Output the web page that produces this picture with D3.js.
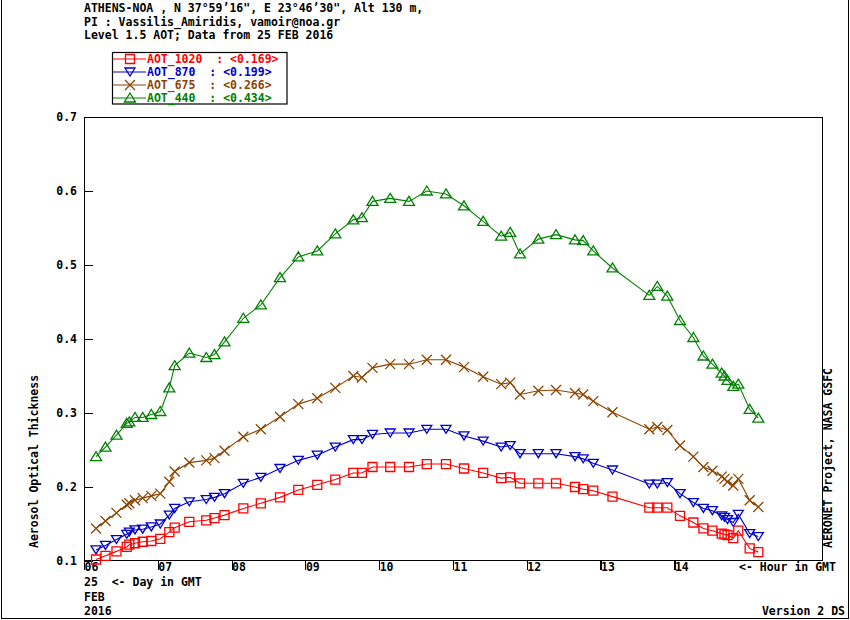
<!DOCTYPE html>
<html>
<head>
<meta charset="utf-8">
<script src="https://cdn.jsdelivr.net/npm/d3@7"></script>
<style>
  html, body { margin: 0; padding: 0; background: #fff; }
  svg text { font-family: "DejaVu Sans Mono", "Liberation Mono", monospace; font-weight: bold; font-size: 11.5px; white-space: pre; }
</style>
</head>
<body>
<svg id="chart" width="850" height="620"></svg>
<script>
// ---- data ----
const titleLines = [
  "ATHENS-NOA , N 37°59’16\", E 23°46’30\", Alt 130 m,",
  "PI : Vassilis_Amiridis, vamoir@noa.gr",
  "Level 1.5 AOT; Data from 25 FEB 2016"
];
const hours = [6.163, 6.291, 6.440, 6.579, 6.614, 6.691, 6.795, 6.912, 7.034, 7.156,
  7.229, 7.427, 7.657, 7.768, 7.904, 8.159, 8.396, 8.656, 8.904, 9.161,
  9.405, 9.649, 9.766, 9.909, 10.149, 10.404, 10.645, 10.905, 11.149, 11.409,
  11.653, 11.775, 11.908, 12.156, 12.396, 12.653, 12.764, 12.901, 13.161, 13.660,
  13.768, 13.904, 14.076, 14.257, 14.393, 14.515, 14.641, 14.679, 14.720, 14.798,
  14.866, 15.020, 15.137];
const aot1020 = [0.102, 0.107, 0.113, 0.119, 0.122, 0.124, 0.126, 0.127, 0.130, 0.139,
  0.145, 0.153, 0.155, 0.158, 0.162, 0.171, 0.178, 0.186, 0.196, 0.203,
  0.210, 0.219, 0.219, 0.227, 0.227, 0.227, 0.231, 0.231, 0.225, 0.219,
  0.212, 0.213, 0.205, 0.205, 0.205, 0.200, 0.197, 0.195, 0.187, 0.172,
  0.172, 0.172, 0.161, 0.152, 0.144, 0.141, 0.137, 0.136, 0.135, 0.131,
  0.141, 0.117, 0.112];
const aot870 = [0.115, 0.121, 0.129, 0.136, 0.139, 0.142, 0.143, 0.146, 0.150, 0.162,
  0.171, 0.180, 0.183, 0.186, 0.191, 0.205, 0.213, 0.225, 0.236, 0.243,
  0.254, 0.264, 0.264, 0.271, 0.273, 0.273, 0.278, 0.278, 0.269, 0.262,
  0.254, 0.256, 0.245, 0.245, 0.245, 0.241, 0.238, 0.232, 0.223, 0.204,
  0.204, 0.206, 0.191, 0.179, 0.171, 0.168, 0.161, 0.159, 0.156, 0.152,
  0.163, 0.137, 0.133];
const aot675 = [0.144, 0.154, 0.165, 0.176, 0.178, 0.182, 0.185, 0.188, 0.191, 0.207,
  0.221, 0.233, 0.236, 0.239, 0.249, 0.268, 0.278, 0.295, 0.312, 0.320,
  0.334, 0.350, 0.348, 0.361, 0.366, 0.366, 0.372, 0.372, 0.362, 0.349,
  0.339, 0.341, 0.325, 0.330, 0.331, 0.327, 0.325, 0.316, 0.301, 0.278,
  0.281, 0.277, 0.256, 0.241, 0.227, 0.222, 0.214, 0.211, 0.207, 0.202,
  0.211, 0.182, 0.173];
const aot440 = [0.241, 0.254, 0.270, 0.286, 0.288, 0.294, 0.294, 0.298, 0.302, 0.334,
  0.364, 0.381, 0.375, 0.379, 0.396, 0.428, 0.446, 0.483, 0.511, 0.519,
  0.542, 0.561, 0.564, 0.586, 0.590, 0.586, 0.600, 0.596, 0.580, 0.559,
  0.539, 0.544, 0.515, 0.535, 0.541, 0.534, 0.533, 0.519, 0.496, 0.459,
  0.471, 0.458, 0.425, 0.402, 0.377, 0.366, 0.354, 0.350, 0.344, 0.336,
  0.339, 0.305, 0.293];
const seriesNames = ["AOT_1020", "AOT_870", "AOT_675", "AOT_440"];
const seriesMeans = ["0.169", "0.199", "0.266", "0.434"];
const seriesColors = ["#ff0000", "#0000cc", "#8b4500", "#008000"];
const seriesMarkers = ["square", "triangleDown", "cross", "triangleUp"];
const yTicks = [0.1, 0.2, 0.3, 0.4, 0.5, 0.6, 0.7];
const xTicks = [6, 7, 8, 9, 10, 11, 12, 13, 14];
const xTickLabels = ["06", "07", "08", "09", "10", "11", "12", "13", "14"];
const dateLines = ["25  <- Day in GMT", "FEB", "2016"];

// ---- layout ----
const svg = d3.select("#chart");
const x = d3.scaleLinear().domain([6, 16]).range([84, 822]);
const y = d3.scaleLinear().domain([0.1, 0.7]).range([561, 117]);

// outer frame
svg.append("rect").attr("x", 1.5).attr("y", -5).attr("width", 847).attr("height", 623.5)
  .attr("fill", "none").attr("stroke", "#000").attr("stroke-width", 1);

// titles
svg.selectAll("text.title").data(titleLines).enter().append("text")
  .attr("class", "title").attr("x", 84).attr("y", (d, i) => 12 + i * 13.5)
  .attr("fill", "#000").text(d => d);

// plot frame
svg.append("rect").attr("x", 84.5).attr("y", 117.5).attr("width", 738).attr("height", 443)
  .attr("fill", "none").attr("stroke", "#000").attr("stroke-width", 1.2)
  .attr("shape-rendering", "crispEdges");

// y axis: ticks inward
const yAxis = d3.axisRight(y).tickValues(yTicks).tickSize(8).tickFormat("");
const gy = svg.append("g").attr("transform", "translate(84.5,0)").call(yAxis);
gy.select(".domain").remove();
gy.selectAll(".tick line").attr("stroke", "#000").attr("stroke-width", 1.2).attr("shape-rendering", "crispEdges");
svg.selectAll("text.ylab").data(yTicks).enter().append("text")
  .attr("class", "ylab").attr("x", 77).attr("y", d => y(d) + 4)
  .attr("text-anchor", "end").text(d => d3.format(".1f")(d));

// x axis: ticks outward
const xAxis = d3.axisBottom(x).tickValues(xTicks).tickSize(9).tickFormat("");
const gx = svg.append("g").attr("transform", "translate(0,560.5)").call(xAxis);
gx.select(".domain").remove();
gx.selectAll(".tick line").attr("stroke", "#000").attr("stroke-width", 1.2).attr("shape-rendering", "crispEdges");
svg.selectAll("text.xlab").data(xTicks).enter().append("text")
  .attr("class", "xlab").attr("x", d => x(d) + 0.5).attr("y", 571)
  .text((d, i) => xTickLabels[i]);

svg.append("text").attr("x", 739).attr("y", 571).text("<- Hour in GMT");
svg.selectAll("text.date").data(dateLines).enter().append("text")
  .attr("class", "date").attr("x", 84).attr("y", (d, i) => 586 + i * 14.7).text(d => d);
svg.append("text").attr("x", 845).attr("y", 615).attr("text-anchor", "end").text("Version 2 DS");

// axis titles
svg.append("text").attr("transform", "translate(38,548) rotate(-90)").text("Aerosol Optical Thickness");
svg.append("text").attr("transform", "translate(832,548) rotate(-90)").text("AERONET Project, NASA GSFC");

// markers
function markerPath(type, cx, cy) {
  const p = d3.path();
  if (type === "square") {
    p.rect(cx - 4.5, cy - 4.5, 9, 9);
  } else if (type === "triangleDown") {
    p.moveTo(cx - 5, cy - 4); p.lineTo(cx + 5, cy - 4); p.lineTo(cx, cy + 4); p.closePath();
  } else if (type === "triangleUp") {
    p.moveTo(cx, cy - 5); p.lineTo(cx + 5.5, cy + 4); p.lineTo(cx - 5.5, cy + 4); p.closePath();
  } else if (type === "cross") {
    p.moveTo(cx - 5, cy - 5); p.lineTo(cx + 5, cy + 5);
    p.moveTo(cx + 5, cy - 5); p.lineTo(cx - 5, cy + 5);
  }
  return p.toString();
}

const allSeries = [aot1020, aot870, aot675, aot440];
const line = d3.line().x(d => x(d[0])).y(d => y(d[1]));
const drawOrder = [3, 2, 1, 0];
drawOrder.forEach(si => {
  const pts = hours.map((h, i) => [h, allSeries[si][i]]);
  const g = svg.append("g");
  g.append("path").attr("d", line(pts)).attr("fill", "none")
    .attr("stroke", seriesColors[si]).attr("stroke-width", 1.1);
  g.selectAll("path.m").data(pts).enter().append("path").attr("class", "m")
    .attr("d", d => markerPath(seriesMarkers[si], x(d[0]), y(d[1])))
    .attr("fill", "none").attr("stroke", seriesColors[si]).attr("stroke-width", 1.3);
});

// legend
const lg = svg.append("g");
lg.append("rect").attr("x", 112.5).attr("y", 52.5).attr("width", 174.5).attr("height", 51.5)
  .attr("fill", "#fff").attr("stroke", "#000").attr("stroke-width", 1.2);
seriesNames.forEach((name, i) => {
  const ly = 59 + i * 13;
  lg.append("line").attr("x1", 113).attr("x2", 146).attr("y1", ly).attr("y2", ly)
    .attr("stroke", seriesColors[i]).attr("stroke-width", 1.1);
  lg.append("path").attr("d", markerPath(seriesMarkers[i], 130, ly))
    .attr("fill", "none").attr("stroke", seriesColors[i]).attr("stroke-width", 1.3);
  const pad = name.length === 8 ? "  " : "  ";
  lg.append("text").attr("x", 147).attr("y", ly + 4).attr("fill", seriesColors[i])
    .text(name + pad + ": <" + seriesMeans[i] + ">");
});
</script>
</body>
</html>
